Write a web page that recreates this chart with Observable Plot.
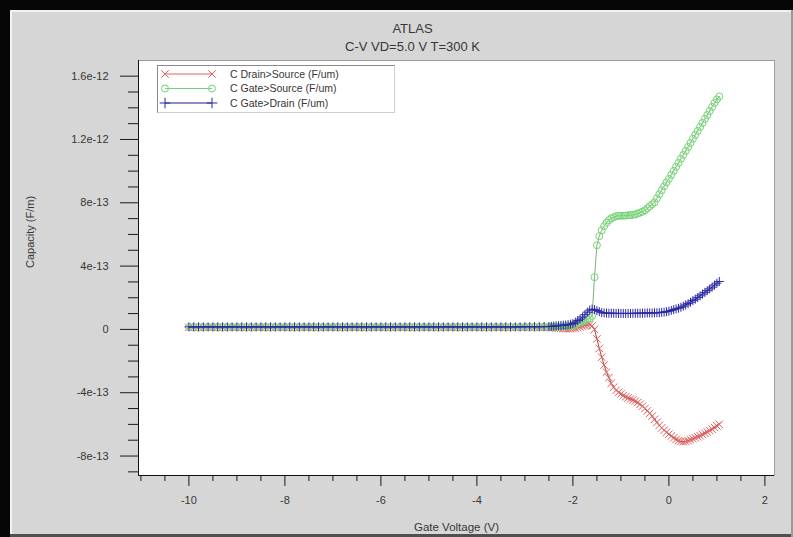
<!DOCTYPE html>
<html>
<head>
<meta charset="utf-8">
<script src="https://cdn.jsdelivr.net/npm/d3@7"></script>
<script src="https://cdn.jsdelivr.net/npm/@observablehq/plot@0.6"></script>
<style>
  html, body { margin: 0; padding: 0; background: #d6d6d6; }
  #wrap { position: relative; width: 793px; height: 537px; background: #d6d6d6; overflow: hidden; font-family: "Liberation Sans", Arial, sans-serif; }
  #chart { position: absolute; left: 0; top: 0; }
  .bd { position: absolute; }
  #legend { position: absolute; left: 157px; top: 65px; width: 236px; height: 46px; border-left: 1px solid #8a8a8a; border-top: 1px solid #8a8a8a; border-right: 1px solid #d0d0d0; border-bottom: 1px solid #d0d0d0; }
</style>
</head>
<body>
<div id="wrap">
  <div id="chart"></div>
  <div id="legend"></div>
  <div class="bd" style="left:0;top:0;width:793px;height:10px;background:#050505"></div>
  <div class="bd" style="left:0;top:0;width:10px;height:537px;background:#050505"></div>
  <div class="bd" style="left:10px;top:10px;width:783px;height:2px;background:#f2f2f2"></div>
  <div class="bd" style="left:10px;top:10px;width:2px;height:527px;background:#f2f2f2"></div>
  <div class="bd" style="left:10px;top:534px;width:783px;height:3px;background:#505050"></div>
  <div class="bd" style="left:791px;top:10px;width:2px;height:527px;background:#9a9a9a"></div>
</div>
<script>
// ---- Data (capacitance values in units of 1e-13 F/um) ----
// Gate voltage sweep, part 1 (0.1 V steps)
const voltsSweep1 = [
  -10,-9.9,-9.8,-9.7,-9.6,-9.5,-9.4,-9.3,-9.2,-9.1,
  -9,-8.9,-8.8,-8.7,-8.6,-8.5,-8.4,-8.3,-8.2,-8.1,
  -8,-7.9,-7.8,-7.7,-7.6,-7.5,-7.4,-7.3,-7.2,-7.1,
  -7,-6.9,-6.8,-6.7,-6.6,-6.5,-6.4,-6.3,-6.2,-6.1,
  -6,-5.9,-5.8,-5.7,-5.6,-5.5,-5.4,-5.3,-5.2,-5.1,
  -5,-4.9,-4.8,-4.7,-4.6,-4.5,-4.4,-4.3,-4.2,-4.1,
  -4,-3.9,-3.8,-3.7,-3.6,-3.5,-3.4,-3.3,-3.2,-3.1,
  -3,-2.9,-2.8,-2.7,-2.6
];
// Gate voltage sweep, part 2 (0.05 V steps)
const voltsSweep2 = [
  -2.5,-2.45,-2.4,-2.35,-2.3,-2.25,-2.2,-2.15,-2.1,-2.05,
  -2,-1.95,-1.9,-1.85,-1.8,-1.75,-1.7,-1.65,-1.6,-1.55,
  -1.5,-1.45,-1.4,-1.35,-1.3,-1.25,-1.2,-1.15,-1.1,-1.05,
  -1,-0.95,-0.9,-0.85,-0.8,-0.75,-0.7,-0.65,-0.6,-0.55,
  -0.5,-0.45,-0.4,-0.35,-0.3,-0.25,-0.2,-0.15,-0.1,-0.05,
  0,0.05,0.1,0.15,0.2,0.25,0.3,0.35,0.4,0.45,
  0.5,0.55,0.6,0.65,0.7,0.75,0.8,0.85,0.9,0.95,
  1,1.05
];

// C Drain>Source
const cDrainSource1 = [
  0.13,0.13,0.13,0.13,0.13,0.13,0.13,0.13,0.13,0.13,
  0.13,0.13,0.13,0.13,0.13,0.13,0.13,0.13,0.13,0.13,
  0.13,0.13,0.13,0.13,0.13,0.13,0.13,0.13,0.13,0.13,
  0.13,0.13,0.13,0.13,0.13,0.13,0.13,0.13,0.13,0.13,
  0.13,0.13,0.13,0.13,0.13,0.13,0.13,0.13,0.13,0.13,
  0.13,0.13,0.13,0.13,0.13,0.13,0.13,0.13,0.13,0.13,
  0.13,0.13,0.13,0.13,0.13,0.13,0.13,0.13,0.13,0.13,
  0.13,0.13,0.13,0.12,0.12
];
const cDrainSource2 = [
  0.12,0.11,0.10,0.09,0.08,0.07,0.06,0.05,0.05,0.05,
  0.06,0.08,0.11,0.15,0.20,0.25,0.28,0.29,0.22,0.0,
  -0.6,-1.2,-1.75,-2.25,-2.7,-3.05,-3.4,-3.65,-3.85,-3.98,
  -4.08,-4.18,-4.26,-4.33,-4.4,-4.46,-4.53,-4.62,-4.73,-4.85,
  -5.0,-5.15,-5.3,-5.48,-5.68,-5.88,-6.06,-6.22,-6.37,-6.5,
  -6.62,-6.74,-6.85,-6.95,-7.03,-7.08,-7.1,-7.08,-7.03,-6.97,
  -6.91,-6.85,-6.78,-6.72,-6.64,-6.56,-6.48,-6.39,-6.3,-6.2,
  -6.1,-6.0
];

// C Gate>Source
const cGateSource1 = [
  0.15,0.15,0.15,0.15,0.15,0.15,0.15,0.15,0.15,0.15,
  0.15,0.15,0.15,0.15,0.15,0.15,0.15,0.15,0.15,0.15,
  0.15,0.15,0.15,0.15,0.15,0.15,0.15,0.15,0.15,0.15,
  0.15,0.15,0.15,0.15,0.15,0.15,0.15,0.15,0.15,0.15,
  0.15,0.15,0.15,0.15,0.15,0.15,0.15,0.15,0.15,0.15,
  0.15,0.15,0.15,0.15,0.15,0.15,0.15,0.15,0.15,0.15,
  0.15,0.15,0.15,0.15,0.15,0.15,0.15,0.15,0.15,0.15,
  0.15,0.15,0.16,0.16,0.16
];
const cGateSource2 = [
  0.16,0.16,0.17,0.17,0.18,0.18,0.19,0.2,0.21,0.23,
  0.26,0.3,0.35,0.41,0.48,0.55,0.62,0.7,0.85,3.3,
  5.32,5.89,6.26,6.52,6.74,6.9,7.02,7.09,7.15,7.18,
  7.18,7.18,7.19,7.21,7.22,7.24,7.27,7.32,7.38,7.44,
  7.52,7.65,7.78,7.9,8.03,8.28,8.54,8.79,9.04,9.29,
  9.51,9.77,10.02,10.27,10.52,10.78,11.03,11.28,11.53,11.78,
  12.04,12.29,12.54,12.79,13.05,13.3,13.55,13.8,14.06,14.31,
  14.53,14.72
];

// C Gate>Drain
const cGateDrain1 = [
  0.16,0.16,0.16,0.16,0.16,0.16,0.16,0.16,0.16,0.16,
  0.16,0.16,0.16,0.16,0.16,0.16,0.16,0.16,0.16,0.16,
  0.16,0.16,0.16,0.16,0.16,0.16,0.16,0.16,0.16,0.16,
  0.16,0.16,0.16,0.16,0.16,0.16,0.16,0.16,0.16,0.16,
  0.16,0.16,0.16,0.16,0.16,0.16,0.16,0.16,0.16,0.16,
  0.16,0.16,0.16,0.16,0.16,0.16,0.16,0.16,0.16,0.16,
  0.16,0.16,0.16,0.16,0.16,0.16,0.16,0.16,0.16,0.16,
  0.17,0.17,0.17,0.17,0.18
];
const cGateDrain2 = [
  0.18,0.19,0.21,0.22,0.24,0.25,0.27,0.28,0.30,0.33,
  0.37,0.46,0.56,0.65,0.78,0.93,1.09,1.22,1.28,1.25,
  1.19,1.12,1.06,1.04,1.03,1.02,1.02,1.02,1.01,1.01,
  1.01,1.01,1.01,1.01,1.01,1.01,1.02,1.02,1.02,1.03,
  1.03,1.04,1.04,1.04,1.05,1.05,1.06,1.08,1.09,1.12,
  1.15,1.2,1.25,1.3,1.34,1.4,1.47,1.55,1.63,1.72,
  1.82,1.91,2.01,2.12,2.23,2.34,2.45,2.56,2.67,2.8,
  2.92,3.03
];

const seriesNames = ["C Drain>Source (F/um)", "C Gate>Source (F/um)", "C Gate>Drain (F/um)"];
const seriesSymbols = ["times", "circle", "plus"];
const seriesLineColors = ["#b04040", "#7fae7f", "#1c1c86"];
const seriesMarkColors = ["#e06262", "#74d474", "#2a2aa6"];

const xMajorTicks = [-10, -8, -6, -4, -2, 0, 2];
const xMajorLabels = ["-10", "-8", "-6", "-4", "-2", "0", "2"];
const xMinorTicks = [-11, -10.5, -9.5, -9, -8.5, -7.5, -7, -6.5, -5.5, -5, -4.5, -3.5, -3, -2.5, -1.5, -1, -0.5, 0.5, 1, 1.5];
const yMajorTicks = [-8e-13, -4e-13, 0, 4e-13, 8e-13, 1.2e-12, 1.6e-12];
const yMajorLabels = ["-8e-13", "-4e-13", "0", "4e-13", "8e-13", "1.2e-12", "1.6e-12"];
const yMinorTicks = [-9e-13, -7e-13, -6e-13, -5e-13, -3e-13, -2e-13, -1e-13, 1e-13, 2e-13, 3e-13, 5e-13, 6e-13, 7e-13, 9e-13, 1e-12, 1.1e-12, 1.3e-12, 1.4e-12, 1.5e-12];

const titleText = "ATLAS";
const subtitleText = "C-V VD=5.0 V T=300 K";
const xTitle = "Gate Voltage (V)";
const yTitle = "Capacity (F/m)";

// ---- Build tables ----
const volts = voltsSweep1.concat(voltsSweep2);
const seriesValues = [
  cDrainSource1.concat(cDrainSource2),
  cGateSource1.concat(cGateSource2),
  cGateDrain1.concat(cGateDrain2)
];
const tables = seriesValues.map((vals, k) => volts.map((v, i) => ({v, c: vals[i] * 1e-13, s: seriesNames[k]})));

const xLabelMap = new Map(xMajorTicks.map((t, i) => [t, xMajorLabels[i]]));
const yLabelMap = new Map(yMajorTicks.map((t, i) => [t, yMajorLabels[i]]));

const xDomain = [-11.05, 2.2];
const yDomain = [-9.23e-13, 1.699e-12];
const textColor = "#363636";

const seriesMarks = tables.flatMap((t, k) => [
  Plot.line(t, {x: "v", y: "c", stroke: seriesLineColors[k], strokeWidth: 1}),
  Plot.dot(t, {x: "v", y: "c", symbol: seriesSymbols[k], r: k === 2 ? 3 : 3.5, stroke: seriesMarkColors[k], fill: "none", strokeWidth: 1})
]);

const chart = Plot.plot({
  width: 793,
  height: 537,
  marginLeft: 138,
  marginRight: 19,
  marginTop: 60,
  marginBottom: 62,
  style: {background: "transparent", fontFamily: "'Liberation Sans', Arial, sans-serif", color: textColor},
  x: {domain: xDomain},
  y: {domain: yDomain},
  marks: [
    Plot.frame({fill: "white", stroke: "#9c9c9c"}),
    Plot.axisX(xMinorTicks, {anchor: "bottom", tickSize: 6, tickFormat: () => "", label: null, stroke: "#1a1a1a"}),
    Plot.axisX(xMajorTicks, {anchor: "bottom", tickSize: 11, tickPadding: 10, tickFormat: d => xLabelMap.get(d), label: null, fontSize: 11, stroke: "#1a1a1a", fill: textColor}),
    Plot.axisY(yMinorTicks, {anchor: "left", tickSize: 10, tickFormat: () => "", label: null, stroke: "#1a1a1a"}),
    Plot.axisY(yMajorTicks, {anchor: "left", tickSize: 18, tickPadding: 12, tickFormat: d => yLabelMap.get(d), label: null, fontSize: 11, stroke: "#1a1a1a", fill: textColor}),
    Plot.ruleX([xDomain[0]], {stroke: "#111"}),
    Plot.ruleY([yDomain[0]], {stroke: "#111"}),
    ...seriesMarks,
    Plot.text([titleText], {frameAnchor: "top", dx: -44, dy: -32, lineAnchor: "middle", fontSize: 13, fill: textColor}),
    Plot.text([subtitleText], {frameAnchor: "top", dx: -44, dy: -14, lineAnchor: "middle", fontSize: 13, fill: textColor}),
    Plot.text([xTitle], {frameAnchor: "bottom", dy: 52, lineAnchor: "middle", fontSize: 11.5, fill: textColor}),
    Plot.text([yTitle], {frameAnchor: "left", dx: -108, rotate: -90, lineAnchor: "middle", fontSize: 11, fill: textColor})
  ]
});
document.getElementById("chart").appendChild(chart);

// ---- Legend ----
const symbolTypes = {times: d3.symbolTimes, circle: d3.symbolCircle, plus: d3.symbolPlus};
const leg = d3.select("#legend").append("svg").attr("width", 236).attr("height", 46)
  .style("font-family", "'Liberation Sans', Arial, sans-serif");
seriesNames.forEach((name, k) => {
  const y = 8 + k * 14.5;
  const g = leg.append("g");
  g.append("line").attr("x1", 7).attr("x2", 54).attr("y1", y).attr("y2", y)
    .attr("stroke", k === 2 ? seriesLineColors[k] : seriesMarkColors[k]).attr("stroke-width", 1);
  const r = k === 2 ? 3.5 : 3.5;
  [7, 54].forEach(x => {
    g.append("path").attr("d", d3.symbol(symbolTypes[seriesSymbols[k]], Math.PI * r * r)())
      .attr("transform", `translate(${x},${y})`)
      .attr("fill", "none").attr("stroke", seriesMarkColors[k]).attr("stroke-width", 1);
  });
  g.append("text").attr("x", 72).attr("y", y).attr("dy", "0.35em")
    .attr("font-size", 10.5).attr("fill", textColor).text(name);
});
</script>
</body>
</html>
